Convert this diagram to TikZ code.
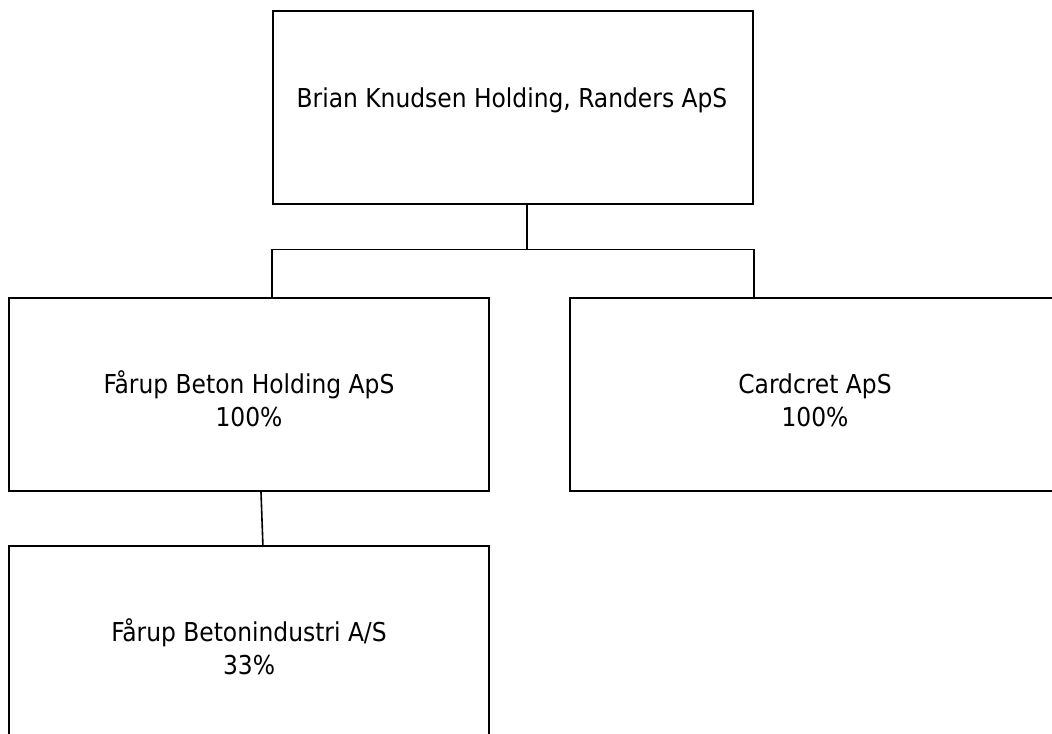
\documentclass[tikz,border=0pt]{standalone}
\usepackage{fontspec}
\setmainfont{DejaVu Sans Condensed}
\usetikzlibrary{calc}
\begin{document}
\begin{tikzpicture}[x=0.75pt,y=-0.75pt,
  box/.style={draw=black,line width=1.4pt,fill=none,anchor=north west,inner sep=0pt,minimum width=360pt,minimum height=144.5pt},
  lbl/.style={anchor=base,align=center,inner sep=0pt,font=\fontsize{19.5}{24.75}\selectfont},
  conn/.style={draw=black,line width=1.2pt}]
\useasboundingbox (0,0) rectangle (1052,733);
\clip (0,0) rectangle (1052,733);
\node[box] (top) at (272,10) {};
\node[box] (lft) at (8,297) {};
\node[box,minimum width=372pt] (rgt) at (569,297) {};
\node[box] (bot) at (8,545) {};
\node[lbl] (ttop) at (512,107) {Brian Knudsen Holding, Randers ApS};
\node[lbl] (tlft) at (249,426) {Fårup Beton Holding ApS\\100\%};
\node[lbl] (trgt) at (815,426) {Cardcret ApS\\100\%};
\node[lbl] (tbot) at (249,674) {Fårup Betonindustri A/S\\33\%};
\coordinate (a) at ($(top.south west)!0.529!(top.south east)$);
\coordinate (bar) at ($(a)+(0,45)$);
\draw[conn] (a) -- (bar);
\draw[conn] (lft.north -| top.west) |- (bar) -| (rgt.north -| top.east);
\draw[conn] ($(lft.south west)!0.525!(lft.south east)$) -- ($(bot.north west)!0.529!(bot.north east)$);
\end{tikzpicture}
\end{document}
